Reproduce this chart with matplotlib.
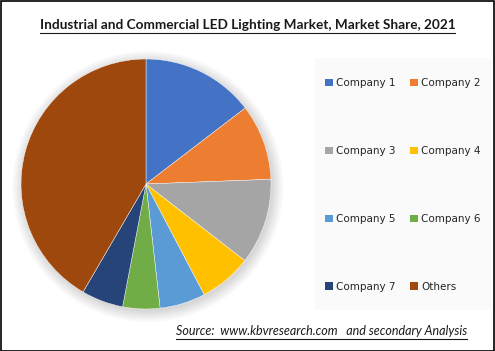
import matplotlib
matplotlib.use("Agg")
import matplotlib.pyplot as plt
from matplotlib.patches import Rectangle, Circle
from matplotlib.lines import Line2D

labels = ["Company 1", "Company 2", "Company 3", "Company 4",
          "Company 5", "Company 6", "Company 7", "Others"]
shares = [14.6, 9.8, 11.1, 6.8, 5.9, 4.8, 5.4, 41.6]
colors = ["#4472C4", "#ED7D31", "#A5A5A5", "#FFC000",
          "#5B9BD5", "#70AD47", "#264478", "#9E480E"]
title = "Industrial and Commercial LED Lighting Market, Market Share, 2021"
source = "Source:  www.kbvresearch.com   and secondary Analysis"

W, H = 495, 351
fig = plt.figure(figsize=(W / 100, H / 100), dpi=100)
fig.patch.set_facecolor("white")

# legend background panel
fig.patches.append(Rectangle((315 / W, 1 - 310 / H), 176 / W, 252 / H,
                             transform=fig.transFigure, facecolor="#fafafa",
                             edgecolor="none", zorder=0))

# pie axes
cx, cy, r = 146, 184, 125
ax = fig.add_axes([(cx - r) / W, 1 - (cy + r) / H, 2 * r / W, 2 * r / H])
# soft shadow
for k in range(8):
    ax.add_patch(Circle((0.015, -0.02), 1.0 + 0.012 * k, facecolor="black",
                        alpha=0.018, edgecolor="none", zorder=0, clip_on=False))
wedges, _ = ax.pie(shares, colors=colors, startangle=90, counterclock=False,
                   radius=1.0, wedgeprops=dict(linewidth=0.3, edgecolor="white"))
for w in wedges:
    w.set_zorder(2)
ax.set_xlim(-1, 1)
ax.set_ylim(-1, 1)
ax.set_aspect("equal")
ax.axis("off")

# legend, row-wise order in 2 columns
order = [0, 2, 4, 6, 1, 3, 5, 7]
handles = [Rectangle((0, 0), 1, 1, facecolor=colors[i], edgecolor="none") for i in order]
leg = fig.legend(handles, [labels[i] for i in order], ncol=2, loc="center",
                 bbox_to_anchor=(403 / W, 1 - 185 / H), frameon=False,
                 fontsize=7.5, labelspacing=5.55, handlelength=0.7,
                 handleheight=0.7, handletextpad=0.35, columnspacing=1.4,
                 borderpad=0)
for t in leg.get_texts():
    t.set_color("#262626")

t1 = fig.text(0.5, 1 - 25 / H, title, ha="center", va="center",
              fontsize=9.85, fontweight="bold", family="Lato", color="#1a1a1a")
t2 = fig.text(321.5 / W, 1 - 331 / H, source, ha="center", va="center",
              fontsize=9.0, style="italic", family="Lato", color="#1a1a1a")

fig.canvas.draw()
renderer = fig.canvas.get_renderer()
for t, off in [(t1, 1.5), (t2, 1.5)]:
    bb = t.get_window_extent(renderer)
    y = (bb.y0 - off) / H
    fig.add_artist(Line2D([bb.x0 / W, bb.x1 / W], [y, y], transform=fig.transFigure,
                          color="#1a1a1a", linewidth=0.8))

# outer border
fig.patches.append(Rectangle((0.5 / W, 0.5 / H), (W - 1.5) / W, (H - 1.5) / H,
                             transform=fig.transFigure, facecolor="none",
                             edgecolor="black", linewidth=1.2, zorder=10))

fig.savefig("out.png", dpi=100)
